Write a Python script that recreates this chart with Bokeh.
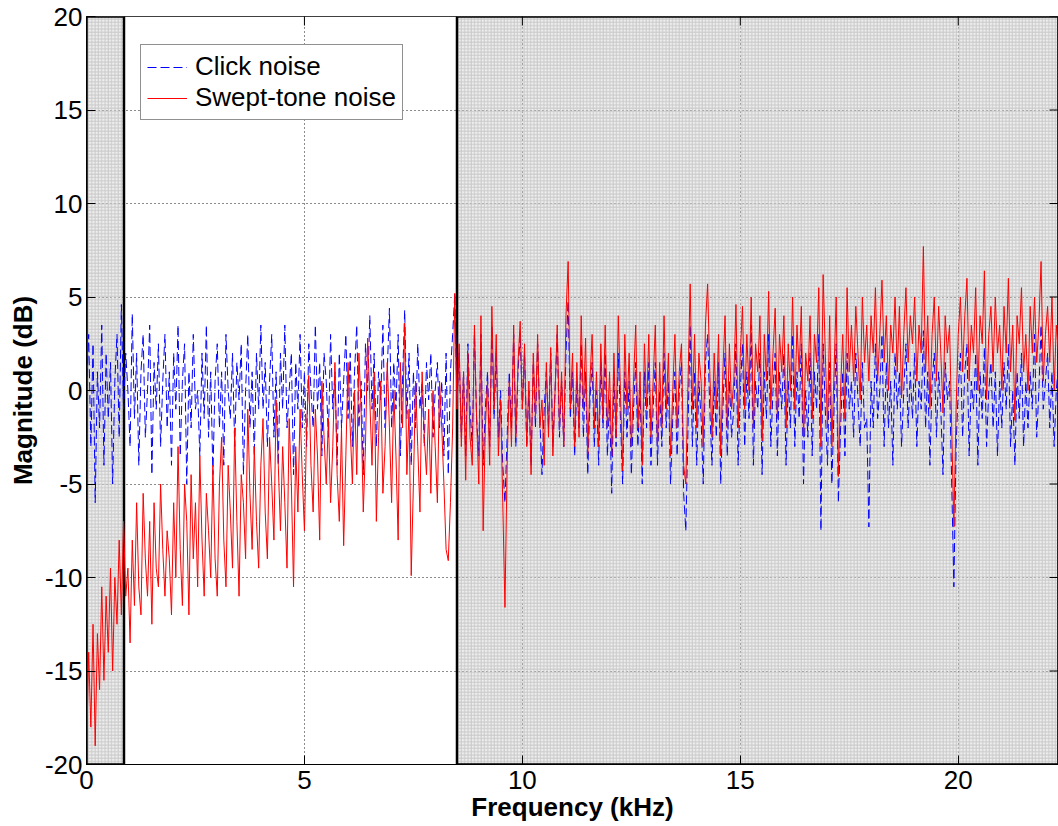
import numpy as np
from bokeh.plotting import figure
from bokeh.models import Range1d, FixedTicker, Legend
from bokeh.embed import file_html
from bokeh.resources import INLINE

# ---------------- data (dB) ----------------
freq_step_khz = 0.05

click_db = [
    0, 3, -3, 2.5, -6, 1, -2, 3.5, -4, 2, -1.5, 1.5, -5, 0.5, 3, -2.5, 4.6, -1, 2, 0,
    -3, 4.1, -1.5, 2, -4, 1, 3, -2.5, 0, 3.5, -4.5, 1.5, -1, 2.5, -3, 0.5, 3, -2, 1, -4,
    2, -1, 3.5, -3.5, 0.5, 2.5, -5, 1, -2, 3, -1, 0, -3.5, 2, -1.5, 3.5, -2.5, 1, -4.5, 0.5,
    2.5, -2, 1, -4, 3, 0, -1.5, 2, -3, 1.5, -0.5, 2.5, -4.5, 0, 3, -2, 1, -3.5, 2, -1,
    3.5, -1, 1.5, -3, 0.5, 3, -2.5, 1, -4, 2, -1, 3.5, -2, 0, 2, -4.5, 1.5, -1, 3, -2,
    1, -3, 2.5, 0, -2, 3.5, -1, 1.5, -3.5, 2, 0.5, -2.5, 3, -1, 1, -4, 2, -2, 0.5, 3,
    -1.5, 2, -3, 1, 3.5, -2, 0.5, -4.5, 2.5, 0, 4, -1, 2, -3, 1, -0.5, 3.5, -2, 1, 4.4,
    -2, 1.5, -1, 3, -3.5, 0.5, 4.3, -1.5, 2, -4, 1, -2, 2.5, -1, 0.5, -3, 1.5, -0.5, 2, -2.5,
    0, 1.5, -2, 0.5, -3.5, 2, -4.5, 1, 3, 5.2, -0.5, 2, -2.5, 1, -3.5, 2.5, -1, -3, 3, -1.5,
    -3.5, 3, -4, -1, 1, -3, 3.5, -1.5, 2, -2.5, 0, -4, -6, -2.5, 1, -2, 3, -3, 1, 3,
    -1, 2, -3, 0, -4, 1.5, -2, 2.5, -1.5, -4.5, -1, 1, -2, 2, -3, 0, 3, -2.5, 0.5, -3,
    2, 4.8, -1.5, 1, -3.5, 0.5, -2, 2.5, -2.5, 1, -4.5, -0.5, 1.5, -3, 0, -4, 1.5, -2, 2, -3.5,
    -0.5, -5.5, 1, -3, 2, -1.5, -5, 1, -2.5, 0.5, -4.5, -1, 1.5, -3, 0, -5, 1, -2, 1.5, -4,
    -1, 1.5, -4, 0, -3, 2, -2, 0.5, -5, -1.5, 1, -3.5, 0, 1.5, -5.5, -7.5, -2, 3.5, -3, 1,
    -4, 0.5, -1.5, -5, 1.5, 3, -1, -4, 0.5, -2.5, 1.5, -5, -1, 2, -3.5, 0.5, -2.5, -1, 2.5, -4,
    0, 2.5, -3, 1, -1.5, 3.5, -4, 0.5, -1, 2, -4.5, 1, -1.5, 3, -3, 0, 2, -3.5, 1, -1,
    2, -4, 0.5, -2, 3, -3, 1, -1.5, 2.5, -5, 0, -2.5, 2, -3.5, 1, -1, 3, -7.5, 2.5, -1,
    -4, 1.5, -5, -1, 2.5, -6, -2, 1, -3.5, 2, -1, 0.5, -2.5, 2, -0.5, -3, 1.5, -2, -1.5, -7.3,
    0.5, -2, 2.5, -1.5, 0, 3, -3, 1.5, -2, 0.5, -4, 2, -1, 1, -3, 0, 2.5, -2, 1, -1.5,
    2, -3, 0.5, -1, 3.2, -2, 1, -4, 0.5, 2, -2.5, 1, -1, -4.5, 1.5, -0.5, 0.5, -5, -10.5, -3,
    0, 2, -2.5, 1, 2.5, -3.5, 0.5, -1, 2, -4, 1, -1.5, 2.3, -3, 0, 1.5, -2, 1, -3.5, 0.5,
    -2, 1.5, -1, 2.5, -3, 0, -4, 1, -1.5, 2, -3, 0.5, -2, 1, -1, 3, -2.5, 0, 3.5, -1,
    0.5, 2, -2, 1, -3, 0, 1.5,
]

swept_db = [
    -19.5, -14, -18, -12.5, -19, -13, -16, -10.5, -15.5, -11, -14, -9.5, -15, -10, -12.5, -8, -12, -7, -11, -9.5,
    -13.5, -8, -11.5, -6, -10.5, -12, -5.5, -9, -11, -7, -12.5, -6, -9.5, -10.5, -5, -8.5, -11, -7.5, -9, -12,
    -6, -10, -3, -8.5, -11.5, -5, -7, -12, -4.5, -9, -6, -10.5, -3.5, -8, -11, -5.5, -7.5, -10, -4, -9,
    -11, -5, -2.5, -8, -10.5, -4, -6.5, -9.5, -2, -7, -11, -4.5, -6, -9, -1, -5.5, -8.5, -3, -7, -9.5,
    -4, -1.5, -6.5, -9, -2.5, -5, -8, -0.5, -4, -7.5, -3, -6, -9.5, -1.5, -5, -10.5, -3, -6.5, -1, -4.5,
    -7.5, -2, 0.8, -4, -6.5, -1, -3.5, -8, 0.5, -2.5, -5, -1.5, -6, -3, 1.5, -4.5, -7, -2, -8.3, -3.5,
    1.5, -2, -5, 0, -4.5, 2, -1, -6.5, -3, 2.8, -0.5, -4, 1, -7, -2.5, 0.5, -5.5, -3, 1.5, -2,
    -6, 0, -3.5, -8, 1.5, -2, 3.6, -4.5, -1, -9.9, -5, 0.5, -3, -6.5, 1, -2.5, -4.5, -1, -5.5, 0,
    -3, -6, 0.5, -2, -5, -8.5, -9.1, -6, -2, 5.2, -1, 2.5, -3, 1, -4.8, 2, -2.5, -4, 3.5, -1.5,
    -5, 4, -7.5, -2, 0.5, -4, 4.5, -1, 3, -3.5, -0.5, -6, -11.6, -4, 0.5, -3, 3.5, -2.5, 1.5, 3.7,
    -1, 2.5, -3, 0.5, -4.5, 2, -1.5, 3, -2, -0.5, -4, 1.5, -2.5, 2.3, -3.5, 0, 3.5, -2, 1, -3,
    4, 6.9, -1, 2, -3, 1.5, -2.5, 4, -1, 2.8, -3.4, 0.5, 3, -2, 1, -3, 2.5, -1.5, 3.5, -2,
    1, -3.5, 2, -2.5, 4, 0, -4.3, 3, -1, 2, -3, 0.5, 3.5, -2, 1, -4, 2.5, -1, 3, -2.5,
    0.5, 3.5, -3, 1.5, -2, 4, -1, 2, -3.5, 0, 3, -2, 1, 2.5, -4, -5, 0.5, 5.7, -1, 3,
    -2, 2, 0.5, -3, 3.5, 5.7, 1, -2.5, 2, -1, 3, -3.5, 1, 4, -2, 2.5, -1, 0.5, 4.6, -2,
    2, 4.5, -1, 3, 0, 5, -2, 2.5, 1, 4, -2.7, 3, 0.5, 5.3, -1, 2, 4.4, -1.5, 3, 1,
    4, -2, 2.5, 0, 5, -1, 3.5, 1, 4.5, -2.5, 2, 0.5, 4, -1.5, 3, 1.5, 5.5, -3, 6.2, 2,
    -2, 4, -3, 1, 5, -4.6, 0, 3, -1.5, 5.5, 1, 3.5, 0.5, 4.5, 2, -0.5, 5, 1.5, 3.5, 0.5,
    4, 2, 5.5, 0.5, 3, 5.9, 1.5, 4, 0, 3.5, 2, 5, 1, 4.5, -0.4, 3, 5.5, 1.5, 4, 2.5,
    5, 0.5, 3.5, 2, 7.7, 1, 4, -1, 3, 5, 0.5, 4.5, 2, -1.2, 4, 2, 3.5, -2, -7.3, -1,
    3, 5, 1, 4, 6, 0.5, 3.5, 2, 5.5, 0, 4, 2.5, 6.4, -0.5, 3, 4.5, 1, 5, 2, 3.5,
    0, 4.5, 2, 6, 1, 3.5, -1.6, 4, 2.5, 5.5, 1, 3, 0, 4.5, 2, 5, 1.5, 3.5, 6.9, 0.5,
    3, 4.5, 1.5, 5, 0, 3.5, 2,
]

freq_khz = np.round(np.arange(len(swept_db)) * freq_step_khz, 3)

# excluded (shaded) frequency bands, kHz
band_start_khz = [0.0, 8.5]
band_end_khz = [0.86, 22.3]

x_ticks = [0, 5, 10, 15, 20]
y_ticks = [-20, -15, -10, -5, 0, 5, 10, 15, 20]
x_max = 22.3
y_min, y_max = -20, 20

FONT = "Liberation Sans"

p = figure(width=1058, height=826, output_backend="svg", toolbar_location=None,
           x_range=Range1d(0, x_max), y_range=Range1d(y_min, y_max),
           min_border_left=86, min_border_right=0, min_border_top=16,
           min_border_bottom=62)
p.background_fill_color = "white"
p.border_fill_color = "white"
p.outline_line_color = "#404040"
p.outline_line_width = 1

# shaded bands
p.quad(left=band_start_khz, right=band_end_khz, bottom=y_min, top=y_max,
       fill_color="#c8c8c8", fill_alpha=0.3,
       hatch_pattern="+", hatch_color="#c4c4c4", hatch_alpha=0.9,
       hatch_scale=3.3, hatch_weight=1,
       line_color="black", line_width=2.5)

r_click = p.line(freq_khz, click_db, line_color="#0000ff", line_width=1,
                 line_dash="9 4")
r_swept = p.line(freq_khz, swept_db, line_color="#ff0000", line_width=1)

# inward ticks on the top and right edges (box on)
p.scatter(x=x_ticks, y=[y_max] * len(x_ticks), marker="dash", angle=np.pi / 2,
          size=18, line_color="black", line_width=1)
p.scatter(x=[x_max] * len(y_ticks), y=y_ticks, marker="dash",
          size=18, line_color="black", line_width=1)

# axes
p.xaxis.ticker = FixedTicker(ticks=x_ticks)
p.yaxis.ticker = FixedTicker(ticks=y_ticks)
p.xaxis.major_label_overrides = {t: str(t) for t in x_ticks}
p.yaxis.major_label_overrides = {t: str(t) for t in y_ticks}
p.xaxis.axis_label = "Frequency (kHz)"
p.yaxis.axis_label = "Magnitude (dB)"
for ax in (p.xaxis, p.yaxis):
    ax.axis_label_text_font = FONT
    ax.axis_label_text_font_style = "bold"
    ax.axis_label_text_font_size = "26px"
    ax.axis_label_text_color = "black"
    ax.major_label_text_font = FONT
    ax.major_label_text_font_size = "26px"
    ax.major_label_text_color = "black"
    ax.major_tick_in = 9
    ax.major_tick_out = 0
    ax.minor_tick_line_color = None
    ax.axis_line_color = "black"
    ax.major_tick_line_color = "black"
p.xaxis.major_label_standoff = 6
p.xaxis.axis_label_standoff = 0
p.yaxis.major_label_standoff = 4
p.yaxis.axis_label_standoff = 4

# grid
p.xgrid.ticker = FixedTicker(ticks=x_ticks)
p.ygrid.ticker = FixedTicker(ticks=y_ticks)
for g in (p.xgrid, p.ygrid):
    g.grid_line_color = "black"
    g.grid_line_dash = "1 3"
    g.grid_line_alpha = 0.9
    g.grid_line_width = 1

legend = Legend(items=[("Click noise", [r_click]), ("Swept-tone noise", [r_swept])],
                location=(54, 644))
legend.label_text_font = FONT
legend.label_text_font_size = "26px"
legend.label_text_color = "black"
legend.glyph_width = 40
legend.glyph_height = 26
legend.label_height = 26
legend.label_standoff = 8
legend.padding = 6
legend.spacing = 0
legend.margin = 0
legend.border_line_color = "#222222"
legend.border_line_width = 1
legend.background_fill_color = "white"
legend.background_fill_alpha = 1
p.add_layout(legend)

open("out.html", "w").write(file_html(p, INLINE))
